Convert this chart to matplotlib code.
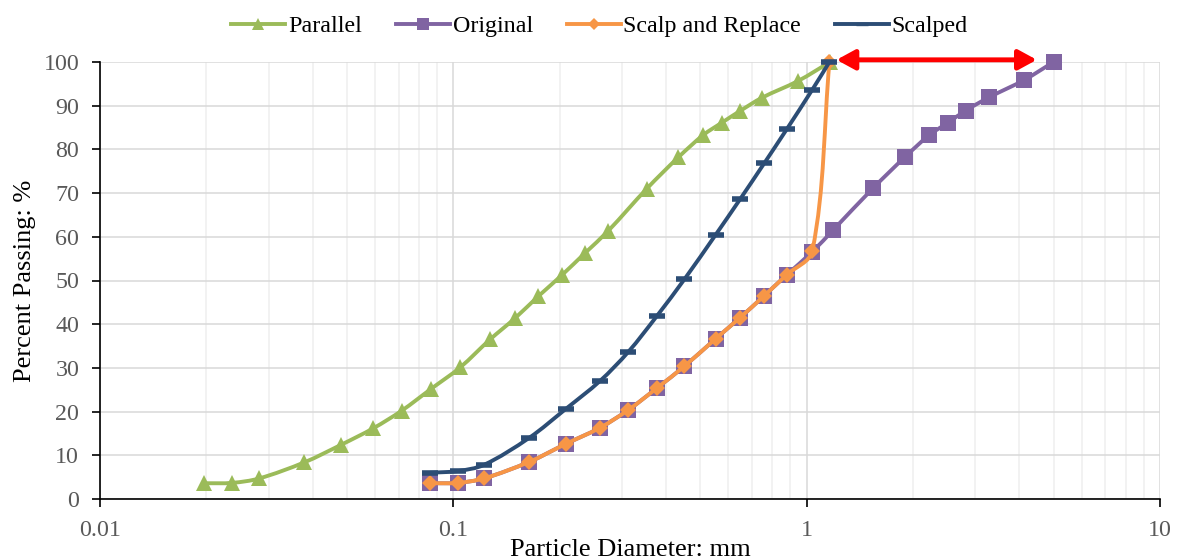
import numpy as np
import matplotlib
matplotlib.use('Agg')
import matplotlib.pyplot as plt
from matplotlib.path import Path
from matplotlib.patches import PathPatch
from matplotlib.lines import Line2D
from matplotlib.ticker import FixedLocator, NullFormatter

plt.rcParams['font.family'] = ['Liberation Serif', 'DejaVu Serif']

# particle diameter (mm) and percent passing
par_d = [0.0197, 0.0237, 0.0282, 0.0379, 0.0481, 0.0594, 0.0714, 0.0865, 0.1045, 0.127, 0.1496, 0.174,
         0.2027, 0.236, 0.2747, 0.3527, 0.4334, 0.510, 0.575, 0.648, 0.7465, 0.9474, 1.165]
par_p = [3.6, 3.7, 4.7, 8.4, 12.4, 16.2, 20.2, 25.2, 30.1, 36.5, 41.4, 46.4,
         51.2, 56.3, 61.4, 71.0, 78.2, 83.3, 86.1, 88.8, 91.8, 95.7, 100]

orig_d = [0.086, 0.103, 0.122, 0.164, 0.208, 0.26, 0.313, 0.377, 0.451, 0.553, 0.648, 0.758,
          0.878, 1.038, 1.19, 1.54, 1.9, 2.225, 2.51, 2.82, 3.28, 4.13, 5.0]
orig_p = [3.6, 3.7, 4.7, 8.5, 12.6, 16.3, 20.4, 25.4, 30.4, 36.7, 41.5, 46.5,
          51.3, 56.6, 61.6, 71.1, 78.3, 83.3, 86.1, 88.9, 91.9, 95.9, 100]

repl_d = [0.086, 0.103, 0.122, 0.164, 0.208, 0.26, 0.313, 0.377, 0.451, 0.553, 0.648, 0.758,
          0.878, 1.038, 1.16]
repl_p = [3.6, 3.7, 4.7, 8.5, 12.6, 16.3, 20.4, 25.4, 30.4, 36.7, 41.5, 46.5,
          51.3, 56.8, 100]

scalped_d = [0.086, 0.103, 0.122, 0.164, 0.208, 0.26, 0.313, 0.377, 0.451, 0.553, 0.648, 0.758,
             0.878, 1.038, 1.16]
scalped_p = [6.0, 6.4, 7.8, 14.0, 20.6, 27.0, 33.7, 41.9, 50.3, 60.5, 68.6, 76.8,
             84.6, 93.7, 100]

arrow_from = (1.215, 100.5)
arrow_to = (4.48, 100.5)

c_par = '#9bbb59'
c_orig = '#8064a2'
c_repl = '#f79646'
c_scalp = '#2c4d75'


def smooth_path(ax, xs, ys):
    # excel-ish smoothed line: bezier segments, tangents scaled by segment length (screen space)
    pts = ax.transData.transform(np.column_stack([xs, ys]))
    n = len(pts)
    verts = [pts[0]]
    codes = [Path.MOVETO]
    for i in range(n - 1):
        p0 = pts[max(i - 1, 0)]
        p1 = pts[i]
        p2 = pts[i + 1]
        p3 = pts[min(i + 2, n - 1)]
        seg = np.hypot(*(p2 - p1))
        t1 = p2 - p0
        t2 = p3 - p1
        t1 = t1 / np.hypot(*t1)
        t2 = t2 / np.hypot(*t2)
        c1 = p1 + t1 * seg / 3.0
        c2 = p2 - t2 * seg / 3.0
        verts += [c1, c2, p2]
        codes += [Path.CURVE4] * 3
    verts = ax.transData.inverted().transform(np.array(verts))
    return Path(verts, codes)


fig = plt.figure(figsize=(11.78, 5.6), dpi=100)
ax = fig.add_axes([100 / 1178, 61 / 560, 1060 / 1178, 437 / 560])
ax.set_xscale('log')
ax.set_xlim(0.01, 10)
ax.set_ylim(0, 100)

series = [
    (par_d, par_p, c_par, '^', 11.5, 'Parallel'),
    (orig_d, orig_p, c_orig, 's', 11, 'Original'),
    (repl_d, repl_p, c_repl, 'D', 8.5, 'Scalp and Replace'),
    (scalped_d, scalped_p, c_scalp, '_', 11, 'Scalped'),
]
handles = []
for k, (xd, yd, col, mk, ms, lab) in enumerate(series):
    patch = PathPatch(smooth_path(ax, xd, yd), fill=False, edgecolor=col, lw=2.8,
                      zorder=3 + k, clip_on=False, capstyle='round')
    ax.add_patch(patch)
    mew = 4 if mk == '_' else 0
    ax.plot(xd, yd, linestyle='none', marker=mk, ms=ms, color=col, mec=col, mew=mew,
            zorder=3 + k, clip_on=False)
    handles.append(Line2D([], [], color=col, lw=2.8, marker=mk, ms=ms * 0.75, mec=col,
                          mew=mew * 0.6, label=lab))

ax.annotate('', xy=arrow_to, xytext=arrow_from, xycoords='data', annotation_clip=False,
            arrowprops=dict(arrowstyle='<|-|>,head_length=0.55,head_width=0.3', color='red',
                            lw=3.5, mutation_scale=20, shrinkA=0, shrinkB=0), zorder=10)

# grid
ax.set_yticks(np.arange(0, 101, 10))
ax.xaxis.set_major_locator(FixedLocator([0.01, 0.1, 1, 10]))
ax.set_xticklabels(['0.01', '0.1', '1', '10'])
ax.xaxis.set_minor_formatter(NullFormatter())
ax.grid(True, which='major', color='#d9d9d9', lw=1.1, zorder=0)
ax.grid(True, which='minor', axis='x', color='#efefef', lw=1.1, zorder=0)
ax.set_axisbelow(True)

for s in ['top', 'right']:
    ax.spines[s].set_visible(False)
for s in ['left', 'bottom']:
    ax.spines[s].set_color('black')
    ax.spines[s].set_linewidth(1.2)
    ax.spines[s].set_zorder(2)

ax.tick_params(axis='both', which='major', direction='out', length=6, width=1.2,
               colors='black', labelcolor='#595959', labelsize=17.3)
ax.tick_params(axis='x', which='minor', length=0)
ax.tick_params(axis='x', pad=9)
ax.tick_params(axis='y', pad=9)

ax.set_xlabel('Particle Diameter: mm', fontsize=19, color='black')
ax.set_ylabel('Percent Passing: %', fontsize=19, color='black')
ax.xaxis.set_label_coords(0.5, -0.092)
ax.yaxis.set_label_coords(-0.060, 0.5)

fig.legend(handles=handles, loc='center', bbox_to_anchor=(0.509, 0.953), ncol=4, frameon=False,
           fontsize=17.3, handlelength=2.25, handletextpad=0.12, columnspacing=1.4)

fig.savefig('out.png', dpi=100)
